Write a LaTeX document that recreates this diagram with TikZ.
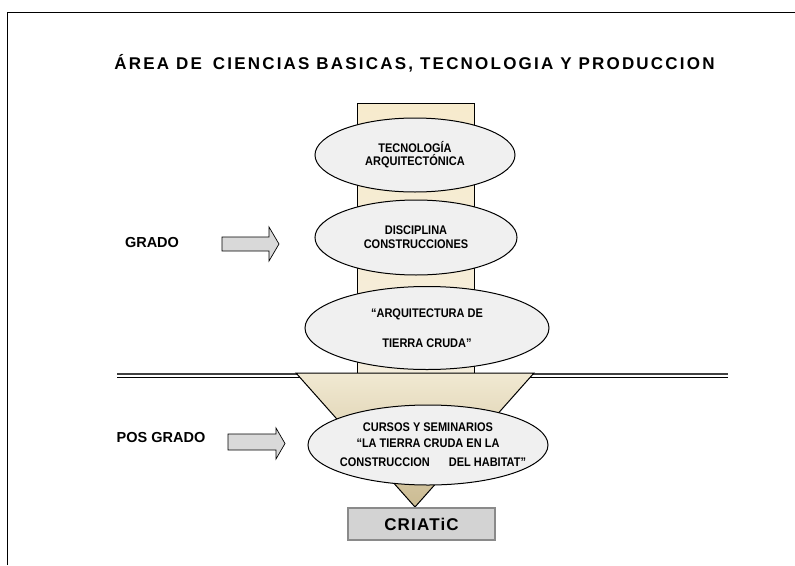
\documentclass[tikz,border=0pt]{standalone}
\usepackage{fontspec}
\setmainfont{Liberation Sans}
\newfontfamily\spacedfont{Liberation Sans}[LetterSpace=13]
\newfontfamily\boxfont{Liberation Sans}[LetterSpace=7]
\newfontfamily\ellfont{Liberation Sans}[FakeStretch=0.88]
\usetikzlibrary{shapes.geometric}
\definecolor{ellfill}{HTML}{F0F0F0}
\definecolor{colA}{HTML}{F7EBCD}
\definecolor{colB}{HTML}{F5EEDD}
\definecolor{triA}{HTML}{F1E9D2}
\definecolor{triB}{HTML}{CBBB92}
\definecolor{arrfill}{HTML}{D9D9D9}
\definecolor{boxfill}{HTML}{D3D3D3}
\definecolor{boxline}{HTML}{8A8A8A}
\definecolor{lineA}{HTML}{404040}
\tikzset{
  ell/.style={ellipse, draw=black, line width=1pt, fill=ellfill, inner xsep=-30pt, inner ysep=-8pt,
    align=center, font=\ellfont\bfseries\fontsize{12.5}{13}\selectfont},
  lbl/.style={inner sep=0pt, font=\bfseries\fontsize{14.5}{16}\selectfont},
  blockarrow/.style={draw=black, line width=0.7pt, fill=arrfill},
}
\begin{document}
\begin{tikzpicture}[x=1pt,y=-1pt]
\useasboundingbox (0,0) rectangle (795,565);
% frame
\draw[line width=1pt] (7,565) -- (7,12) -- (795,12);
% title
\node[inner sep=0pt, font=\spacedfont\bfseries\fontsize{17}{19}\selectfont] (title) at (414.5,63)
  {ÁREA DE\hspace{4pt} CIENCIAS BASICAS, TECNOLOGIA Y PRODUCCION};
% double separator line
\draw[line width=1.2pt, lineA] (117,374) -- (728,374);
\draw[line width=1.2pt, black] (117,377.2) -- (728,377.2);
% column
\draw[line width=0.8pt, top color=colA, bottom color=colB] (357,103) rectangle (474,374);
% ellipses in column
\node[ell, minimum width=200pt, minimum height=74pt] (e1) at (415,155)
  {TECNOLOGÍA\\ARQUITECTÓNICA};
\node[ell, minimum width=202pt, minimum height=75pt] (e2) at (416,237.5)
  {DISCIPLINA\\[1pt]CONSTRUCCIONES};
\node[ell, minimum width=244pt, minimum height=83pt] (e3) at (427,328)
  {“ARQUITECTURA DE\\[17pt]TIERRA CRUDA”};
% funnel
\draw[line width=1pt, top color=triA, bottom color=triB] (296,373) -- (534,373) -- (415,507) -- cycle;
\node[ell, minimum width=240pt, minimum height=80pt] (e4) at (428,445)
  {CURSOS Y SEMINARIOS\\[3pt]“LA TIERRA CRUDA EN LA\\[6pt]\hspace*{10pt}CONSTRUCCION\hspace{19pt}DEL HABITAT”};
% result box
\node[draw=boxline, line width=1.6pt, fill=boxfill, minimum width=147pt, minimum height=32pt,
  inner sep=0pt, font=\boxfont\bfseries\fontsize{17}{19}\selectfont] (criatic) at (421.5,524) {CRIATiC};
% side labels
\node[lbl] (grado) at (152,243) {GRADO};
\node[lbl] (posgrado) at (161,438) {POS GRADO};
% block arrows
\draw[blockarrow] (222,237) -- (269,237) -- (269,227) -- (279,244) -- (269,261) -- (269,251) -- (222,251) -- cycle;
\draw[blockarrow] (228,434) -- (276,434) -- (276,428) -- (285,443.5) -- (276,459) -- (276,450) -- (228,450) -- cycle;
\end{tikzpicture}
\end{document}
